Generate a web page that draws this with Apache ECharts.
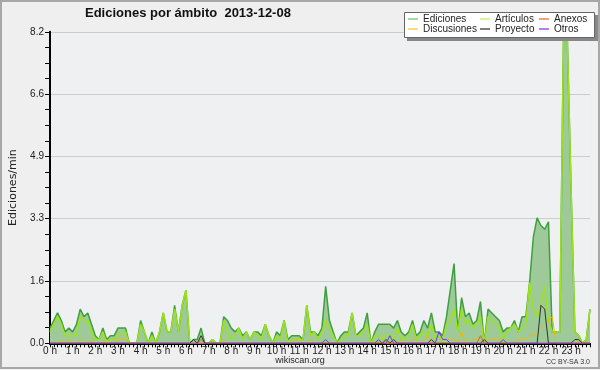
<!DOCTYPE html>
<html>
<head>
<meta charset="utf-8">
<script src="https://cdn.jsdelivr.net/npm/echarts@6/dist/echarts.min.js"></script>
<style>
html,body{margin:0;padding:0;background:#efefef;}
#c{width:600px;height:370px;}
</style>
</head>
<body>
<div id="c"></div>
<script>
// 10-minute slots, 0h00 .. 23h50 (144 slots)
var hourLabels = ['0 h','1 h','2 h','3 h','4 h','5 h','6 h','7 h','8 h','9 h','10 h','11 h','12 h','13 h','14 h','15 h','16 h','17 h','18 h','19 h','20 h','21 h','22 h','23 h'];
var yTicks = [0, 1.64, 3.28, 4.92, 6.56, 8.2];

var ediciones = [
0.4,0.6,0.8,0.6,0.3,0.4,0.3,0.5,0.9,0.7,0.8,0.5,0.2,0.1,0.4,0.1,0.2,0.2,0.4,0.4,0.4,0,0,0,
0.6,0.3,0,0.3,0,0.3,0.8,0.3,0.3,1.0,0.3,1.0,1.4,0,0.1,0.1,0.4,0,0,0.1,0,0,0.7,0.6,
0.4,0.3,0.4,0.2,0.3,0.1,0.3,0.3,0.2,0.5,0.2,0,0.3,0.2,0.6,0.1,0.2,0.2,0.2,0.1,1.0,0.3,0.3,0.2,
0.4,1.5,0.6,0.3,0,0.2,0.3,0.3,0.8,0.2,0.3,0.4,0.8,0,0.3,0.5,0.5,0.5,0.5,0.4,0.6,0.3,0.2,0.3,
0.6,0.2,0.3,0.6,0.4,0.8,0.3,0.3,0.2,0.7,1.4,2.1,0.3,1.2,0.7,0.8,0.5,0.6,1.1,0,0.9,0.8,0.7,0.6,
0.3,0.4,0.4,0.6,0.3,0.7,0.7,1.6,2.8,3.3,3.1,3.0,3.2,0.3,0.3,0.3,8.2,8.0,4.0,0.3,0.2,0,0.1,0.9
];
var articulos = [
0.3,0.5,0.7,0.5,0.2,0.2,0.2,0.2,0.7,0.6,0.6,0.3,0.1,0.1,0.3,0,0.1,0.1,0.2,0.3,0.3,0,0,0,
0.5,0.3,0,0.2,0,0.3,0.8,0.3,0.3,0.9,0.3,1.0,1.4,0,0,0,0,0,0,0.1,0,0,0.6,0.3,
0.1,0.2,0.4,0.1,0.3,0.1,0.3,0.2,0.1,0.5,0.2,0,0.2,0.1,0.6,0,0.1,0.1,0.1,0.1,1.0,0.2,0.3,0.1,
0.3,0.6,0.4,0.2,0,0.1,0.2,0.2,0.8,0.2,0.2,0.3,0.5,0,0.2,0.2,0.1,0.2,0.2,0.1,0.4,0.1,0.1,0.2,
0.5,0.1,0.2,0.3,0.2,0.5,0.1,0.2,0.1,0.5,0.6,0.9,0.3,0.9,0.5,0.6,0.4,0.5,0.7,0,0.7,0.6,0.5,0.4,
0.1,0.3,0.4,0.5,0.3,0.4,0.5,1.6,0.9,0.7,1.0,1.5,0.6,0.3,0.3,0.3,8.2,8.0,4.0,0.3,0.2,0,0.1,0.9
];
var discusiones = [
0,0,0,0.1,0,0.1,0,0,0.1,0,0,0.1,0,0,0,0.1,0,0,0.1,0.1,0.1,0,0,0,
0,0,0,0,0,0,0,0,0,0,0,0,0,0,0,0,0,0,0,0,0,0,0.1,0,
0,0,0,0,0,0,0,0,0,0,0,0,0,0,0,0,0,0.1,0.1,0,0,0.1,0,0,
0,0,0,0,0,0,0,0,0,0,0,0,0,0,0,0,0.1,0,0,0,0,0.1,0,0,
0.1,0.1,0,0.1,0.2,0,0,0,0.1,0.1,0.1,0.1,0,0.3,0,0,0.1,0.1,0,0,0.1,0.1,0.1,0.1,
0,0,0,0,0.1,0.1,0.1,0.2,0.2,0.3,0.4,0.5,0.6,0.7,0,0,0,0,0,0,0.1,0,0,0
];
var proyecto = [
0,0,0,0,0,0,0,0,0,0,0,0,0,0,0,0,0,0,0,0,0,0,0,0,
0,0,0,0,0,0,0,0,0,0,0,0,0,0,0.1,0,0.2,0,0,0,0,0,0,0,
0,0,0,0,0,0,0,0,0,0,0,0,0,0,0,0,0,0,0,0,0,0,0,0,
0,0,0,0,0,0,0,0,0,0,0,0,0,0,0,0,0,0.1,0,0.1,0,0,0,0,
0,0,0,0,0,0.1,0,0,0,0,0,0,0,0,0,0,0,0,0,0.1,0,0,0,0,
0,0,0,0,0,0,0,0,0,0,1.0,0.9,0,0,0,0,0,0,0,0.1,0.1,0,0,0
];
var anexos = [
0,0,0,0,0,0,0,0,0,0,0,0,0,0,0,0,0,0,0,0,0,0,0,0,
0,0,0,0,0,0,0,0,0,0,0,0,0,0,0,0,0.1,0,0,0,0,0,0,0,
0,0,0,0,0,0,0,0,0,0,0,0,0,0,0,0,0,0,0,0,0,0,0,0,
0,0,0,0,0,0,0,0,0,0,0,0,0,0,0,0,0,0,0,0,0,0,0,0,
0,0,0,0,0,0,0,0,0,0,0,0,0,0,0,0,0,0,0.2,0,0,0,0,0,
0,0,0,0,0,0,0,0,0,0,0,0,0,0,0,0,0,0,0,0,0,0,0,0
];
var otros = [
0,0,0,0,0,0,0,0,0,0,0,0,0,0,0,0,0,0,0,0,0,0,0,0,
0,0,0,0,0,0,0,0,0,0,0,0,0,0,0,0,0,0,0,0,0,0,0,0,
0,0,0,0,0,0,0,0,0,0,0,0,0,0,0,0,0,0,0,0,0,0,0,0,
0,0.1,0,0,0,0,0,0,0,0,0,0,0,0,0,0.1,0,0,0.2,0,0,0,0,0,
0,0,0,0,0,0,0,0.3,0.1,0.1,0,0,0,0,0,0,0,0,0,0,0,0,0,0,
0.1,0,0,0,0,0,0,0,0,0,0,0,0,0,0,0,0,0,0,0,0,0,0,0
];

function pts(arr){ return arr.map(function(v,i){ return [i, v]; }); }

var chart = echarts.init(document.getElementById('c'), null, {renderer:'canvas'});
var legendFont = {fontFamily:'Liberation Sans', fontSize:10, color:'#222', lineHeight:10};
function mkLegend(left, items){
  return {
    orient:'vertical', left:left, top:14, padding:0, itemGap:0,
    itemWidth:10, itemHeight:1.5, icon:'rect', z:100,
    textStyle: legendFont, selectedMode:false,
    data: items
  };
}
var option = {
  backgroundColor:'#efefef',
  animation:false,
  title:{
    text:'Ediciones por ámbito  2013-12-08', left:85, top:7, padding:0,
    textStyle:{fontFamily:'Liberation Sans', fontWeight:'bold', fontSize:13, color:'#111'}
  },
  legend:[
    mkLegend(408, [{name:'Ediciones', itemStyle:{color:'#8ccc8c'}},{name:'Discusiones', itemStyle:{color:'#f7d050'}}]),
    mkLegend(480, [{name:'Artículos', itemStyle:{color:'#ccf07a'}},{name:'Proyecto', itemStyle:{color:'#555555'}}]),
    mkLegend(539, [{name:'Anexos', itemStyle:{color:'#f08050'}},{name:'Otros', itemStyle:{color:'#9a55f0'}}])
  ],
  grid:{left:46.7, right:10, top:31.8, bottom:26.7, show:true, backgroundColor:'#eff0f2', borderWidth:0},
  xAxis:{
    type:'value', min:0, max:143, interval:6,
    axisLine:{show:true, lineStyle:{color:'#000', width:2}},
    axisTick:{show:true, length:4, lineStyle:{color:'#000'}},
    minorTick:{show:true, splitNumber:6, length:4, lineStyle:{color:'#000'}},
    splitLine:{show:false},
    axisLabel:{
      margin:3, fontFamily:'Liberation Sans', fontSize:10, color:'#222',
      formatter:function(v){ return (v % 6 === 0) ? hourLabels[v/6] : ''; }
    }
  },
  yAxis:{
    type:'value', min:yTicks[0], max:yTicks[yTicks.length-1], interval:yTicks[1],
    name:'Ediciones/min', nameLocation:'middle', nameRotate:90, nameGap:31,
    nameTextStyle:{fontFamily:'DejaVu Sans', fontSize:11, color:'#222'},
    axisLine:{show:true, lineStyle:{color:'#000', width:2}},
    axisTick:{show:true, length:5, lineStyle:{color:'#000'}},
    minorTick:{show:true, splitNumber:4, length:5, lineStyle:{color:'#000'}},
    splitLine:{show:true, lineStyle:{color:'#cccccc', width:1}},
    axisLabel:{
      margin:6, fontFamily:'Liberation Sans', fontSize:10, color:'#222',
      formatter:function(v){ return v.toFixed(1); }
    }
  },
  graphic:[
    {type:'rect', shape:{x:1, y:1, width:598, height:367}, style:{fill:'none', stroke:'#a8a8a8', lineWidth:2}, silent:true, z:-1},
    {type:'rect', shape:{x:407, y:15, width:191, height:26}, style:{fill:'#888888'}, silent:true, z:90},
    {type:'rect', shape:{x:404.5, y:12.5, width:190, height:25}, style:{fill:'#ffffff', stroke:'#666666', lineWidth:1}, silent:true, z:91},
    {type:'text', left:'center', top:356, style:{text:'wikiscan.org', font:'9px "Liberation Sans"', fill:'#222'}, silent:true},
    {type:'text', right:10, top:359, style:{text:'CC BY-SA 3.0', font:'7px "Liberation Sans"', fill:'#333'}, silent:true}
  ],
  series:[
    {name:'Ediciones', type:'line', data:pts(ediciones), symbol:'none', z:2,
     lineStyle:{color:'#3fa03f', width:1.5}, itemStyle:{color:'#3fa03f'},
     areaStyle:{color:'#9dca98', opacity:1}},
    {name:'Artículos', type:'line', data:pts(articulos), symbol:'none', z:3,
     lineStyle:{color:'#9de31a', width:1.5}, itemStyle:{color:'#9de31a'}},
    {name:'Discusiones', type:'line', data:pts(discusiones), symbol:'none', z:4,
     lineStyle:{color:'#f2b705', width:1}, itemStyle:{color:'#f2b705'}},
    {name:'Anexos', type:'line', data:pts(anexos), symbol:'none', z:5,
     lineStyle:{color:'#f05a14', width:1}, itemStyle:{color:'#f05a14'}},
    {name:'Proyecto', type:'line', data:pts(proyecto), symbol:'none', z:6,
     lineStyle:{color:'#333333', width:1}, itemStyle:{color:'#333333'}},
    {name:'Otros', type:'line', data:pts(otros), symbol:'none', z:7,
     lineStyle:{color:'#7a33f0', width:1}, itemStyle:{color:'#7a33f0'}}
  ]
};
chart.setOption(option);
</script>
</body>
</html>
